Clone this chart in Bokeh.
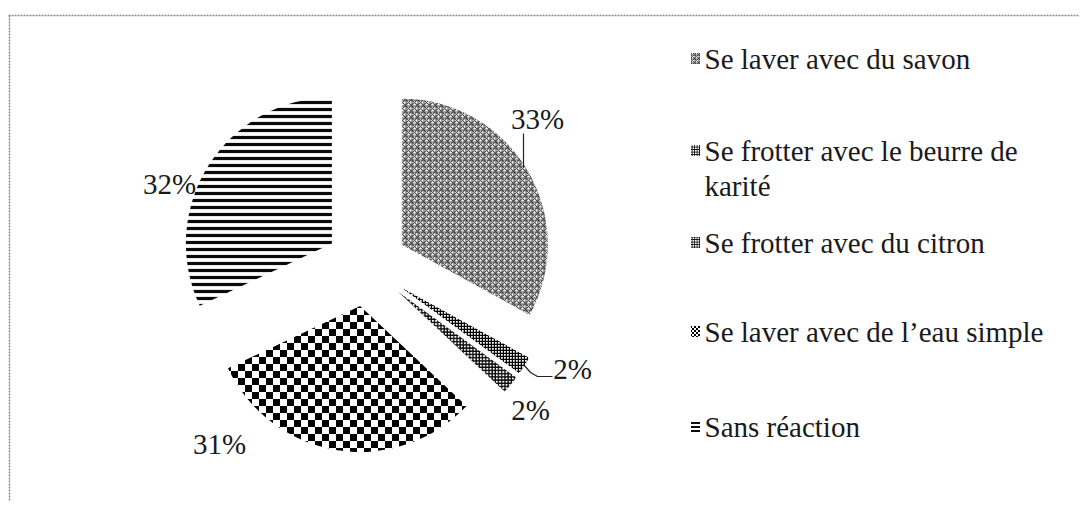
import math, zlib, struct, base64
from bokeh.plotting import figure
from bokeh.models import Range1d, ColumnDataSource, ImageURLTexture
from bokeh.core.properties import value
from bokeh.embed import file_html
from bokeh.resources import INLINE

# ---- data ----
categories = ["Se laver avec du savon",
              "Se frotter avec le beurre de\nkarité",
              "Se frotter avec du citron",
              "Se laver avec de l\u2019eau simple",
              "Sans réaction"]
values = [33, 2, 2, 31, 32]
pct_labels = ["33%", "2%", "2%", "31%", "32%"]

# ---- textures ----
def png_url(w, h, fn):
    raw = b""
    for y in range(h):
        raw += b"\x00" + bytes(fn(x, y) for x in range(w))
    def chunk(t, d):
        c = struct.pack(">I", len(d)) + t + d
        return c + struct.pack(">I", zlib.crc32(t + d) & 0xffffffff)
    data = (b"\x89PNG\r\n\x1a\n" + chunk(b"IHDR", struct.pack(">IIBBBBB", w, h, 8, 0, 0, 0, 0))
            + chunk(b"IDAT", zlib.compress(raw)) + chunk(b"IEND", b""))
    return "data:image/png;base64," + base64.b64encode(data).decode()

SQ = 7
checker = png_url(2 * SQ, 2 * SQ, lambda x, y: 0 if ((x // SQ + y // SQ) % 2 == 0) else 255)
checker_small = png_url(4, 4, lambda x, y: 0 if ((x // 2 + y // 2) % 2 == 0) else 255)

# ---- styles / layout ----
W, H = 1079, 501
OFF = 0
hatches = ["criss_cross", "cross", "cross", "chk", "horizontal_line"]
hatch_colors = ["#4a4a4a", "#000000", "#080808", "#000000", "#0a0a0a"]
hatch_scales = [6, 3.0, 3.2, 7, 7]
hatch_weights = [1.1, 1.5, 1.4, 1, 3.2]
FONT = "Liberation Serif"
TXT = "#1a1a1a"

def fx(x):  # image px -> data x
    return x - OFF

def fy(y):  # image px -> data y
    return (H + OFF) - y

CX, CY = fx(366), fy(265)
EXPLODE = 41
R = 146

p = figure(width=W, height=H, x_range=Range1d(0, W), y_range=Range1d(0, H),
           output_backend="svg", toolbar_location=None, min_border=0)
p.axis.visible = False
p.grid.visible = False
p.outline_line_color = None
p.background_fill_color = "white"
p.border_fill_color = "white"

total = sum(values)
cum = 0
xs, ys, sa, ea = [], [], [], []
for v in values:
    a0 = cum / total
    a1 = (cum + v) / total
    cum += v
    mid = math.pi / 2 - 2 * math.pi * (a0 + a1) / 2
    xs.append(CX + EXPLODE * math.cos(mid))
    ys.append(CY + EXPLODE * math.sin(mid))
    sa.append(math.pi / 2 - 2 * math.pi * a0)
    ea.append(math.pi / 2 - 2 * math.pi * a1)

src = ColumnDataSource(dict(x=xs, y=ys, sa=sa, ea=ea, hp=hatches, hc=hatch_colors,
                            hs=hatch_scales, hw=hatch_weights))
p.wedge(x="x", y="y", radius=R, start_angle="sa", end_angle="ea", direction="clock",
        source=src, fill_color="white", line_color=None,
        hatch_pattern="hp", hatch_color="hc", hatch_scale="hs", hatch_weight="hw",
        hatch_extra={"chk": ImageURLTexture(url=checker)})

# percentage labels (image-pixel layout positions)
lab_pos = [(537, 118), (572, 368), (530, 409), (219, 443), (169, 183)]
p.text(x=[fx(a) for a, b in lab_pos], y=[fy(b) for a, b in lab_pos], text=pct_labels,
       text_font=value(FONT), text_font_size="29px", text_color=TXT,
       text_align="center", text_baseline="middle")

# leader lines
p.line(x=[fx(523), fx(523)], y=[fy(133), fy(167)], line_color="#222", line_width=1.2)
p.line(x=[fx(523), fx(530), fx(537), fx(552)], y=[fy(364), fy(372), fy(376), fy(376)],
       line_color="#222", line_width=1.2)

# legend
leg_y = [58, 150, 242, 331, 426]
tx, ty, tt = [], [], []
for cat, yy in zip(categories, leg_y):
    for k, line in enumerate(cat.split("\n")):
        tx.append(fx(704))
        ty.append(fy(yy + 35 * k))
        tt.append(line)
p.text(x=tx, y=ty, text=tt, text_font=value(FONT), text_font_size="29px",
       text_color=TXT, text_align="left", text_baseline="middle")

msrc = ColumnDataSource(dict(x=[fx(695)] * 5, y=[fy(v) for v in leg_y], hp=hatches,
                             hc=hatch_colors, hs=[4, 2.5, 2.5, 4, 4], hw=[1, 1, 1, 1, 2]))
p.rect(x="x", y="y", width=9, height=11, source=msrc, fill_color="white", line_color=None,
       hatch_pattern="hp", hatch_color="hc", hatch_scale="hs", hatch_weight="hw",
       hatch_extra={"chk": ImageURLTexture(url=checker_small)})

# dotted frame (top and left)
p.line(x=[fx(8), fx(1087)], y=[fy(15), fy(15)], line_color="#8a8a8a", line_width=1.5,
       line_dash="2 1")
p.line(x=[fx(9), fx(9)], y=[fy(15), fy(509)], line_color="#8a8a8a", line_width=1.5,
       line_dash="2 1")

open("out.html", "w").write(file_html(p, INLINE))
